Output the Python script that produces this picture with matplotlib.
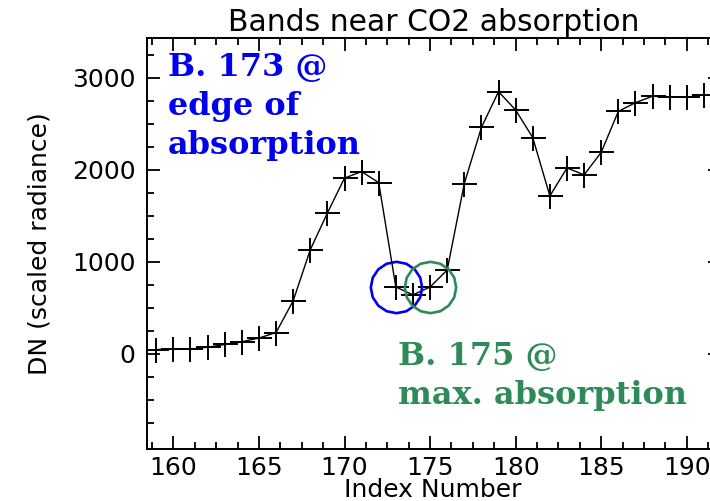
import matplotlib
matplotlib.use('Agg')
import matplotlib.pyplot as plt
import numpy as np
from matplotlib.ticker import MultipleLocator

# band index vs DN
band_index = [159, 160, 161, 162, 163, 164, 165, 166, 167, 168, 169,
              170, 171, 172, 173, 174, 175, 176, 177, 178, 179, 180,
              181, 182, 183, 184, 185, 186, 187, 188, 189, 190, 191]
dn_values = [45, 50, 50, 70, 100, 130, 170, 230, 575, 1130, 1530,
             1910, 1980, 1860, 725, 640, 725, 910, 1850, 2460, 2850, 2650,
             2350, 1715, 2020, 1945, 2190, 2635, 2730, 2800, 2790, 2790, 2815]

y_major = [0, 1000, 2000, 3000]

edge_band = 173
max_band = 175
edge_text = "B. 173 @\nedge of\nabsorption"
max_text = "B. 175 @\nmax. absorption"
blue = '#0000f0'
green = '#2e8b57'

W, H = 710, 501
fig = plt.figure(figsize=(W / 100, H / 100), dpi=100)
left, right, top, bottom = 146.5, 721, 38.3, 449.3
ax = fig.add_axes([left / W, 1 - bottom / H, (right - left) / W, (bottom - top) / H])

ax.plot(band_index, dn_values, color='black', lw=1.0, marker='+',
        markersize=18, mew=1.4)

for b, c in [(edge_band, blue), (max_band, green)]:
    v = dn_values[band_index.index(b)]
    ax.plot([b], [v], marker=(16, 0, 0), markersize=37, mfc='none',
            mec=c, mew=1.9, ls='none')

ax.set_xlim(158.43, 192.0)
ax.set_ylim(-1040, 3430)
ax.xaxis.set_major_locator(MultipleLocator(5))
ax.xaxis.set_minor_locator(MultipleLocator(1.25))
ax.set_yticks(y_major)
ax.set_yticks(np.arange(-750, 3300, 250), minor=True)
ax.tick_params(which='both', direction='in', top=True, right=True,
               width=1.3, labelsize=18)
ax.tick_params(which='major', length=9.4)
ax.tick_params(which='minor', length=5)
ax.tick_params(axis='x', pad=5)
ax.tick_params(axis='y', pad=8)
for s in ax.spines.values():
    s.set_linewidth(1.4)

ax.set_title("Bands near CO2 absorption", fontsize=21.5, pad=5)
fig.text(40 / W, 1 - 244 / H, "DN (scaled radiance)", rotation=90,
         ha='center', va='center', fontsize=18)
fig.text(433 / W, 1 - 497 / H, "Index Number", ha='center', va='baseline',
         fontsize=18)

ax.text(0.0374, 0.966, edge_text, transform=ax.transAxes, color=blue,
        family='DejaVu Serif', weight='bold', fontsize=23, va='top',
        ha='left', linespacing=1.33)
ax.text(0.4375, 0.264, max_text, transform=ax.transAxes, color=green,
        family='DejaVu Serif', weight='bold', fontsize=23, va='top',
        ha='left', linespacing=1.33)

fig.savefig('out.png', dpi=100)
